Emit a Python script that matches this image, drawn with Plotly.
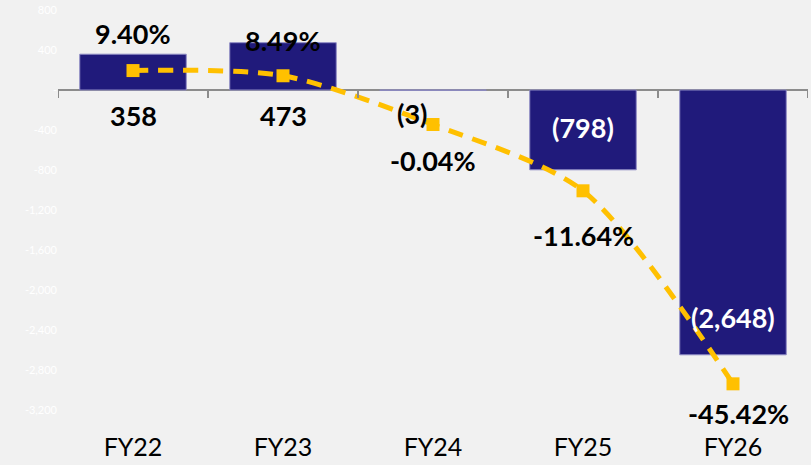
import plotly.graph_objects as go

# data
categories = ["FY22", "FY23", "FY24", "FY25", "FY26"]
values = [358, 473, -3, -798, -2648]
margins_pct = [9.40, 8.49, -0.04, -11.64, -45.42]

y_ticks = [800, 400, 0, -400, -800, -1200, -1600, -2000, -2400, -2800, -3200]
y_tick_text = ["800", "400", "-", "-400", "-800", "-1,200", "-1,600", "-2,000",
               "-2,400", "-2,800", "-3,200"]

NAVY = "#201A7B"
GOLD = "#FFC000"
FONT = "Lato"


def fmt_value(v):
    return f"({abs(v):,})" if v < 0 else f"{v:,}"


fig = go.Figure()

fig.add_trace(go.Bar(
    x=categories,
    y=values,
    width=0.71,
    marker=dict(color=NAVY, line=dict(color="#8E8BC4", width=1)),
    showlegend=False,
    hoverinfo="skip",
))

fig.add_trace(go.Scatter(
    x=categories,
    y=margins_pct,
    yaxis="y2",
    mode="lines+markers",
    line=dict(color=GOLD, width=5, dash="15px,10px", shape="spline", smoothing=0.8),
    marker=dict(color=GOLD, size=13, symbol="square"),
    showlegend=False,
    hoverinfo="skip",
))

# value labels for the bars (offsets in pixels)
value_shift = [(0, -25), (0, -25), (-21, -23), (0, 42), (0, 37)]
annotations = []
for i, (cat, v) in enumerate(zip(categories, values)):
    dx, dy = value_shift[i]
    inside = v < -100
    annotations.append(dict(
        x=cat, y=v if inside else 0, xref="x", yref="y",
        text=fmt_value(v), showarrow=False,
        xshift=dx, yshift=dy,
        font=dict(family=FONT, size=27, color="white" if inside else "black", weight="bold"),
    ))

# percentage labels for the line
pct_shift = [(0, 37), (0, 35), (0, -36), (0, -45), (5, -30)]
for i, (cat, p) in enumerate(zip(categories, margins_pct)):
    dx, dy = pct_shift[i]
    annotations.append(dict(
        x=cat, y=p, xref="x", yref="y2",
        text=f"{p:.2f}%", showarrow=False,
        xshift=dx, yshift=dy,
        font=dict(family=FONT, size=27, color="black", weight="bold"),
    ))

# small tick marks hanging from the zero line between categories
shapes = []
for i in range(len(categories) + 1):
    shapes.append(dict(
        type="line", xref="x", yref="y",
        x0=i - 0.5, x1=i - 0.5,
        ysizemode="pixel", yanchor=0, y0=0, y1=-8,
        line=dict(color="#8C8C8C", width=2),
    ))

fig.update_layout(
    width=811,
    height=465,
    margin=dict(l=58, r=3, t=10, b=55),
    paper_bgcolor="#F1F1F1",
    plot_bgcolor="#F1F1F1",
    font=dict(family=FONT),
    xaxis=dict(
        type="category",
        range=[-0.5, len(categories) - 0.5],
        showgrid=False,
        showline=False,
        ticks="",
        ticklabelstandoff=20,
        tickfont=dict(family=FONT, size=25, color="black"),
    ),
    yaxis=dict(
        range=[-3200, 800],
        tickvals=y_ticks,
        ticktext=y_tick_text,
        showgrid=False,
        zeroline=True,
        zerolinecolor="#8C8C8C",
        zerolinewidth=2,
        showline=False,
        tickfont=dict(family=FONT, size=11, color="white"),
    ),
    yaxis2=dict(
        range=[-50, 20],
        overlaying="y",
        side="right",
        visible=False,
    ),
    annotations=annotations,
    shapes=shapes,
)

# drop the default page margin so the figure fills the window
fig.write_html(
    "out.html",
    config={"displayModeBar": False},
    post_script="document.body.style.margin='0px';",
)
